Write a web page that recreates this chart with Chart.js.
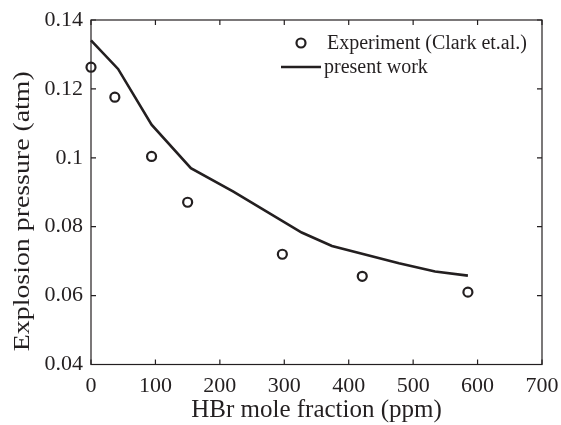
<!DOCTYPE html>
<html>
<head>
<meta charset="utf-8">
<script src="https://cdn.jsdelivr.net/npm/chart.js@4"></script>
<style>
  html, body { margin: 0; padding: 0; background: #fff; }
  #wrap { width: 561px; height: 425px; }
</style>
</head>
<body>
<div id="wrap"><canvas id="c"></canvas></div>
<script>
// Clark et al. experiment (ppm HBr, explosion pressure atm)
var expX = [0, 37, 94, 150, 297, 421, 585];
var expY = [0.1263, 0.1176, 0.1004, 0.0871, 0.0720, 0.0656, 0.0610];

// present work (model)
var simX = [0, 42, 94, 155, 221, 327, 374, 478, 534, 585];
var simY = [0.1341, 0.1258, 0.1096, 0.0970, 0.0902, 0.0783, 0.0744, 0.0694, 0.0670, 0.0658];

var xTicks = [0, 100, 200, 300, 400, 500, 600, 700];
var yTicks = [0.04, 0.06, 0.08, 0.1, 0.12, 0.14];

var yTitle = 'Explosion pressure (atm)';

var serif = "'Liberation Serif', 'Times New Roman', serif";
var ink = '#231f20';

var toPoints = function(xs, ys) {
    return xs.map(function(x, i) { return {x: x, y: ys[i]}; });
};

// box around the plot + inward ticks on all four sides + legend inside
var framePlugin = {
    id: 'frame',
    afterDraw: function(chart) {
        var ctx = chart.ctx, a = chart.chartArea;
        var xs = chart.scales.x, ys = chart.scales.y;
        ctx.save();
        ctx.strokeStyle = ink;
        ctx.lineWidth = 1.2;
        ctx.strokeRect(a.left, a.top, a.right - a.left, a.bottom - a.top);
        ctx.beginPath();
        xTicks.forEach(function(v) {
            var px = xs.getPixelForValue(v);
            ctx.moveTo(px, a.bottom); ctx.lineTo(px, a.bottom - 5);
            ctx.moveTo(px, a.top); ctx.lineTo(px, a.top + 5);
        });
        yTicks.forEach(function(v) {
            var py = ys.getPixelForValue(v);
            ctx.moveTo(a.left, py); ctx.lineTo(a.left + 5, py);
            ctx.moveTo(a.right, py); ctx.lineTo(a.right - 5, py);
        });
        ctx.stroke();

        // y title, sits a bit low in the original
        ctx.save();
        ctx.fillStyle = ink;
        ctx.font = '24px ' + serif;
        ctx.textAlign = 'center';
        ctx.textBaseline = 'alphabetic';
        ctx.translate(29, ys.getPixelForValue(0.0845));
        ctx.rotate(-Math.PI / 2);
        ctx.scale(1.16, 1);
        ctx.fillText(yTitle, 0, 0);
        ctx.restore();

        // legend
        var d0 = chart.data.datasets[0], d1 = chart.data.datasets[1];
        var lx = a.left + 190, ly = a.top + 23;
        ctx.beginPath();
        ctx.lineWidth = d0.borderWidth;
        ctx.strokeStyle = d0.borderColor;
        ctx.arc(lx + 20, ly, d0.pointRadius, 0, Math.PI * 2);
        ctx.stroke();
        ctx.beginPath();
        ctx.lineWidth = d1.borderWidth;
        ctx.strokeStyle = d1.borderColor;
        ctx.moveTo(lx, ly + 24); ctx.lineTo(lx + 40, ly + 24);
        ctx.stroke();
        ctx.fillStyle = ink;
        ctx.font = '20px ' + serif;
        ctx.textBaseline = 'middle';
        ctx.fillText(d0.label, lx + 46, ly + 1);
        ctx.fillText(d1.label, lx + 43, ly + 25);
        ctx.restore();
    }
};

var ctx = document.getElementById('c');
var chart = new Chart(ctx, {
    type: 'scatter',
    data: {
        datasets: [{
            label: 'Experiment (Clark et.al.)',
            data: toPoints(expX, expY),
            showLine: false,
            pointStyle: 'circle',
            pointRadius: 4.5,
            pointBorderWidth: 2.2,
            borderWidth: 2.2,
            borderColor: ink,
            backgroundColor: 'rgba(0,0,0,0)',
            clip: false
        }, {
            label: 'present work',
            data: toPoints(simX, simY),
            showLine: true,
            pointRadius: 0,
            borderWidth: 2.6,
            borderColor: ink,
            tension: 0,
            clip: false
        }]
    },
    options: {
        responsive: true,
        maintainAspectRatio: false,
        animation: false,
        events: [],
        layout: { padding: { top: 20, right: 19, left: 0, bottom: 0 } },
        plugins: { legend: { display: false }, tooltip: { enabled: false } },
        scales: {
            x: {
                type: 'linear',
                min: 0, max: 700,
                afterFit: function(s) { s.height = 60.5; s.paddingLeft = 0; s.paddingRight = 0; },
                afterBuildTicks: function(s) { s.ticks = xTicks.map(function(v) { return {value: v}; }); },
                grid: { display: false, drawTicks: false },
                border: { display: false },
                ticks: { color: ink, padding: 9, font: { family: serif, size: 22 } },
                title: {
                    display: true,
                    text: 'HBr mole fraction (ppm)',
                    color: ink,
                    font: { family: serif, size: 25 },
                    padding: { top: 0, bottom: 0 }
                }
            },
            y: {
                type: 'linear',
                min: 0.04, max: 0.14,
                afterFit: function(s) { s.width = 91; s.paddingTop = 0; s.paddingBottom = 0; },
                afterBuildTicks: function(s) { s.ticks = yTicks.map(function(v) { return {value: v}; }); },
                grid: { display: false, drawTicks: false },
                border: { display: false },
                ticks: {
                    color: ink, padding: 8,
                    font: { family: serif, size: 22 },
                    callback: function(v) { return parseFloat(v.toFixed(2)).toString(); }
                },
                title: { display: false, text: yTitle }
            }
        }
    },
    plugins: [framePlugin]
});
</script>
</body>
</html>
